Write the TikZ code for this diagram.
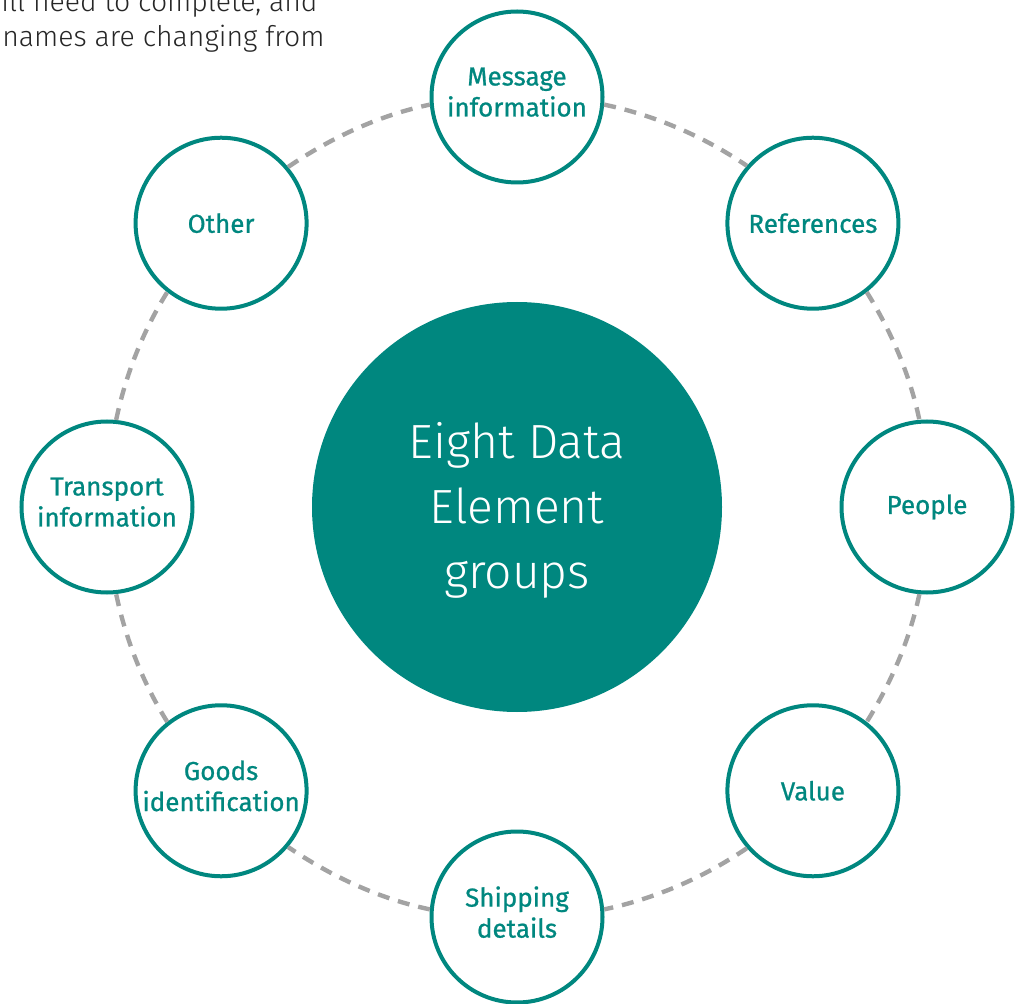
\documentclass[tikz,border=0pt]{standalone}
\usepackage{fontspec}
\setmainfont{Fira Sans}
\newfontfamily\lightfont{Fira Sans Light}
\newfontfamily\labelfont[FakeBold=0.8]{Fira Sans}
\usepackage{tikz}
\usetikzlibrary{calc}

\definecolor{teal}{HTML}{00877F}
\definecolor{ringgray}{HTML}{A3A3A3}

\tikzset{
	group/.style={circle, draw=teal, line width=2pt, fill=white, minimum size=85.5pt,
		inner sep=0pt, align=center, text=teal, font=\labelfont\fontsize{13}{15.5}\selectfont},
	twoline/.style={group, execute at end node=\rule[-5pt]{0pt}{0pt}},
	hub/.style={circle, fill=teal, minimum size=205pt, inner sep=0pt, align=center,
		text=white, font=\lightfont\fontsize{24}{32.5}\selectfont},
	pagetext/.style={anchor=base east, inner sep=0pt, text=black!85,
		font=\lightfont\fontsize{14.2}{17}\selectfont},
	ring/.style={draw=ringgray, line width=2.2pt, dash pattern=on 6pt off 4.5pt}
}

\begin{document}
\begin{tikzpicture}[x=0.5pt, y=0.5pt]
	\useasboundingbox (0,0) rectangle (1018,1003);
	\clip (0,0) rectangle (1018,1003);

	% page text cut off above the diagram
	\node[pagetext] (cuta) at (318,991) {will need to complete, and};
	\node[pagetext] (cutb) at (325,956) {names are changing from};

	\node[hub] (hub) at (517,496) {\rule{0pt}{21pt}Eight Data\\Element\\groups};

	\node[twoline] (msg) at ($(hub)+(90:410)$) {Message\\information};
	\node[group] (ref) at ($(hub)+(43.8:410)$) {References};
	\node[group] (ppl) at ($(hub)+(0:410)$) {People};
	\node[group] (val) at ($(hub)+(-43.8:410)$) {Value};
	\node[twoline] (shp) at ($(hub)+(-90:410)$) {Shipping\\details};
	\node[twoline] (gds) at ($(hub)+(-136.2:410)$) {Goods\\identification};
	\node[twoline] (trn) at ($(hub)+(180:410)$) {Transport\\information};
	\node[group] (oth) at ($(hub)+(136.2:410)$) {Other};

	% dashed ring between the groups, clockwise
	\foreach \a/\b/\t/\u [evaluate=\t as \sa using \t-95.9,
		evaluate=\u as \sb using \u+95.9,
		evaluate=\t as \to using \t-101.9,
		evaluate=\u as \ti using \u+101.9] in
		{msg/ref/90/43.8, ref/ppl/43.8/0, ppl/val/0/-43.8, val/shp/-43.8/-90,
		 shp/gds/-90/-136.2, gds/trn/-136.2/-180, trn/oth/180/136.2, oth/msg/136.2/90}
		\draw[ring] (\a.\sa) to[out=\to, in=\ti, looseness=0.86] (\b.\sb);
\end{tikzpicture}
\end{document}
